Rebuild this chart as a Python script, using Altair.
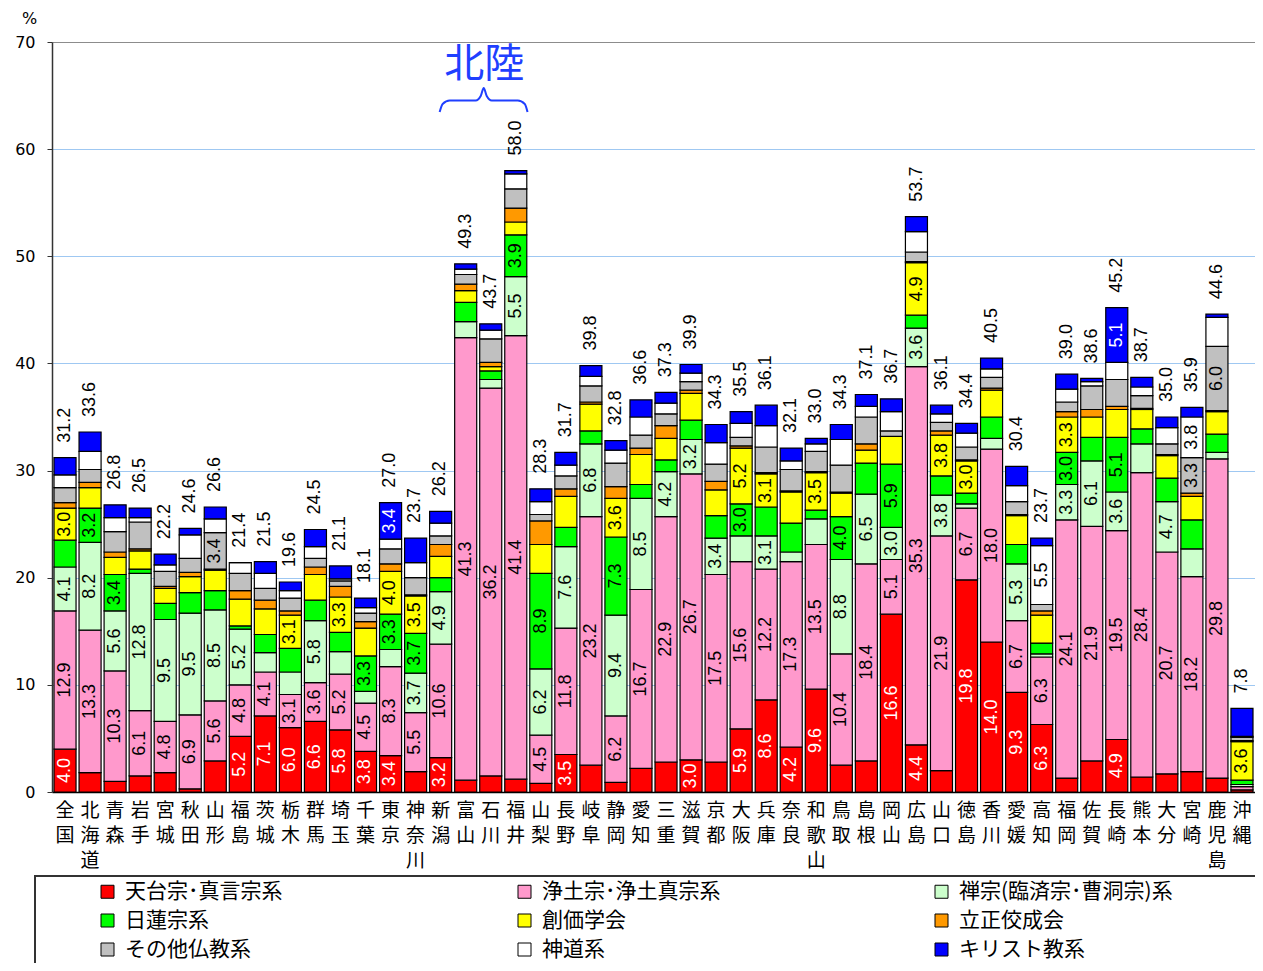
import altair as alt
import pandas as pd

prefs = ["全国","北海道","青森","岩手","宮城","秋田","山形","福島","茨城","栃木","群馬","埼玉",
         "千葉","東京","神奈川","新潟","富山","石川","福井","山梨","長野","岐阜","静岡","愛知",
         "三重","滋賀","京都","大阪","兵庫","奈良","和歌山","鳥取","島根","岡山","広島","山口",
         "徳島","香川","愛媛","高知","福岡","佐賀","長崎","熊本","大分","宮崎","鹿児島","沖縄"]

series = ["天台宗･真言宗系", "浄土宗･浄土真宗系", "禅宗(臨済宗･曹洞宗)系", "日蓮宗系", "創価学会",
          "立正佼成会", "その他仏教系", "神道系", "キリスト教系"]
colors = ["#FF0000", "#FF99CC", "#CCFFCC", "#00FF00", "#FFFF00", "#FF9900", "#C0C0C0", "#FFFFFF", "#0000FF"]

tendai = [4.0,1.8,1.0,1.5,1.8,0.3,2.9,5.2,7.1,6.0,6.6,5.8,3.8,3.4,1.9,3.2,1.1,1.5,1.2,0.8,3.5,2.5,0.9,2.2,
          2.8,3.0,2.8,5.9,8.6,4.2,9.6,2.5,2.9,16.6,4.4,2.0,19.8,14.0,9.3,6.3,1.3,2.9,4.9,1.4,1.7,1.9,1.3,0.2]
jodo = [12.9,13.3,10.3,6.1,4.8,6.9,5.6,4.8,4.1,3.1,3.6,5.2,4.5,8.3,5.5,10.6,41.3,36.2,41.4,4.5,11.8,23.2,6.2,16.7,
        22.9,26.7,17.5,15.6,12.2,17.3,13.5,10.4,18.4,5.1,35.3,21.9,6.7,18.0,6.7,6.3,24.1,21.9,19.5,28.4,20.7,18.2,29.8,0.3]
zen = [4.1,8.2,5.6,12.8,9.5,9.5,8.5,5.2,1.8,2.1,5.8,2.1,1.1,1.6,3.7,4.9,1.5,0.8,5.5,6.2,7.6,6.8,9.4,8.5,
       4.2,3.2,3.4,2.4,3.1,0.9,2.4,8.8,6.5,3.0,3.6,3.8,0.4,1.0,5.3,0.3,3.3,6.1,3.6,2.7,4.7,2.6,0.6,0.2]
nichiren = [2.5,3.2,3.4,0.4,1.5,1.9,1.8,0.3,1.7,2.2,1.9,1.8,3.3,3.3,3.7,1.3,1.8,0.8,3.9,8.9,1.8,1.2,7.3,1.3,
            1.1,1.8,2.1,3.0,2.7,2.7,0.8,4.0,2.9,5.9,1.2,1.8,1.0,2.0,1.8,1.0,3.0,2.2,5.1,1.4,2.2,2.7,1.7,0.4]
soka = [3.0,1.9,1.6,1.7,1.4,1.5,1.9,2.5,2.4,3.1,2.4,3.3,2.6,4.0,3.5,2.0,1.1,0.4,1.2,2.7,2.9,2.5,3.6,2.8,
        2.0,2.5,2.4,5.2,3.1,2.9,3.5,2.2,1.2,2.6,4.9,3.8,3.0,2.5,2.7,2.6,3.3,1.9,2.6,1.8,2.1,2.2,2.1,3.6]
rissho = [0.5,0.5,0.5,0.2,0.2,0.4,0.1,0.8,0.8,0.4,0.7,1.0,0.6,0.7,0.1,1.1,0.6,0.4,1.3,2.2,0.7,0.2,1.1,0.6,
          1.2,0.3,0.8,0.2,0.1,0.1,0.1,0.1,0.6,0.0,0.1,0.4,0.1,0.2,0.1,0.4,0.5,0.7,0.3,0.1,0.1,0.3,0.1,0.1]
other_bud = [1.4,1.2,1.9,2.5,1.4,1.3,3.4,1.6,1.1,1.2,0.8,0.5,0.8,1.4,1.6,0.8,0.9,2.2,1.8,0.6,1.2,1.5,2.2,1.2,
             1.1,0.8,1.6,0.8,2.4,2.0,1.9,2.5,2.5,0.5,0.9,0.8,1.2,1.0,1.2,0.6,0.9,2.2,2.5,1.2,1.0,3.3,6.0,0.3]
shinto = [1.2,1.7,1.3,0.4,0.6,2.2,1.3,1.0,1.4,0.7,1.1,0.2,0.5,0.9,1.4,1.2,0.5,0.8,1.4,1.2,1.0,0.9,1.2,1.7,
          1.0,0.8,2.0,1.3,2.0,0.8,0.7,2.4,1.0,1.8,1.9,0.8,1.3,0.8,1.5,5.5,1.2,0.4,1.6,0.8,1.5,3.8,2.7,0.1]
christ = [1.6,1.8,1.2,0.9,1.0,0.6,1.1,0.0,1.1,0.8,1.6,1.2,0.9,3.4,2.3,1.1,0.5,0.6,0.3,1.2,1.2,1.0,0.9,1.6,
          1.0,0.8,1.7,1.1,1.9,1.2,0.5,1.4,1.1,1.2,1.4,0.8,0.9,1.0,1.8,0.7,1.4,0.3,5.1,0.9,1.0,0.9,0.3,2.6]

# annotation brace (x in category-index units, y in %)
brace_x = [15.48, 15.60, 15.88, 16.92, 17.12, 17.24, 17.36, 17.56, 18.60, 18.88, 18.99]
brace_y = [63.47, 64.22, 64.54, 64.54, 64.96, 65.71, 64.96, 64.54, 64.54, 64.22, 63.47]
region_label = "北陸"
region_x = 17.26
region_y = 67.9

values = [tendai, jodo, zen, nichiren, soka, rissho, other_bud, shinto, christ]

rows = []
for i, p in enumerate(prefs):
    for k, s in enumerate(series):
        rows.append({"pref": p, "series": s, "order": k, "value": values[k][i]})
df = pd.DataFrame(rows)

totals = pd.DataFrame({"pref": prefs,
                       "total": [round(sum(v[i] for v in values), 1) for i in range(len(prefs))]})

W, H = 1203, 750
NUMFONT = "Liberation Sans"
JPFONT = "Noto Sans CJK JP"

xscale = alt.Scale(domain=prefs, paddingInner=0.12, paddingOuter=0.08)
yscale = alt.Scale(domain=[0, 70], nice=False)

x_axis = alt.Axis(title=None, labelAngle=0, labelExpr="split(datum.label, '')", labelFont=JPFONT,
                  labelFontSize=19, labelLineHeight=25, labelColor="black", labelPadding=9,
                  labelBaseline="top", labelOverlap=False, ticks=False, domainColor="black",
                  domainWidth=1.5)
y_axis = alt.Axis(title="%", titleAngle=0, titleX=-23, titleY=-24, titleAlign="center",
                  titleBaseline="middle", titleFont="DejaVu Sans", titleFontSize=16,
                  titleFontWeight="normal", titleColor="black",
                  values=[0, 10, 20, 30, 40, 50, 60, 70], labelFont="DejaVu Sans", labelFontSize=16,
                  labelColor="black", labelPadding=12, tickSize=5, tickColor="#333",
                  domainColor="#333", domainWidth=1.5,
                  gridColor={"condition": {"test": "datum.value === 70", "value": "#8C8C8C"},
                             "value": "#9FC8F2"},
                  gridWidth=1)

stacked = alt.Chart(df).transform_stack(
    stack="value", groupby=["pref"], sort=[alt.SortField("order", order="ascending")], as_=["y0", "y1"]
).transform_calculate(mid="(datum.y0 + datum.y1) / 2")

bars = stacked.mark_bar(stroke="black", strokeWidth=1.2).encode(
    x=alt.X("pref:N", sort=prefs, scale=xscale, axis=x_axis),
    y=alt.Y("y0:Q", scale=yscale, axis=y_axis),
    y2="y1:Q",
    color=alt.Color("series:N", scale=alt.Scale(domain=series, range=colors),
                    legend=alt.Legend(title=None, orient="none", legendX=45, legendY=839,
                                      columns=3, direction="horizontal", gridAlign="all",
                                      columnPadding=175, rowPadding=7, symbolType="square",
                                      symbolSize=169, symbolStrokeColor="black",
                                      symbolStrokeWidth=1, labelFont=JPFONT, labelFontSize=21,
                                      labelColor="black", labelOffset=7, labelLimit=400, padding=0)),
    order=alt.Order("order:Q"),
)

seg_labels = stacked.transform_filter("datum.value >= 3").mark_text(
    angle=270, align="center", baseline="middle", font=NUMFONT, fontSize=18
).encode(
    x=alt.X("pref:N", sort=prefs, scale=xscale, axis=None),
    y=alt.Y("mid:Q", scale=yscale, axis=y_axis),
    text=alt.Text("value:Q", format=".1f"),
    color=alt.condition("datum.order === 0 || datum.order === 8", alt.value("white"), alt.value("black")),
)

tot_labels = alt.Chart(totals).mark_text(
    angle=270, align="left", baseline="middle", font=NUMFONT, fontSize=18, yOffset=-15, color="black"
).encode(
    x=alt.X("pref:N", sort=prefs, scale=xscale, axis=None),
    y=alt.Y("total:Q", scale=yscale, axis=y_axis),
    text=alt.Text("total:Q", format=".1f"),
)

qscale = alt.Scale(domain=[0, 48.04], nice=False, zero=False)
brace_df = pd.DataFrame({"bx": brace_x, "by": brace_y, "idx": list(range(len(brace_x)))})
brace = alt.Chart(brace_df).mark_line(color="#1F3FFF", strokeWidth=2, interpolate="monotone").encode(
    x=alt.X("bx:Q", scale=qscale, axis=None),
    y=alt.Y("by:Q", scale=yscale, axis=y_axis),
    order="idx:Q",
)
region = alt.Chart(pd.DataFrame({"lx": [region_x], "ly": [region_y], "t": [region_label]})).mark_text(
    font=JPFONT, fontSize=40, color="#1F3FFF", align="center", baseline="middle"
).encode(
    x=alt.X("lx:Q", scale=qscale, axis=None),
    y=alt.Y("ly:Q", scale=yscale, axis=y_axis),
    text="t:N",
)

legend_box = alt.Chart(alt.Data(values=[{"a": 1}])).mark_rect(
    fillOpacity=0, stroke="#333", strokeWidth=2
).encode(x=alt.value(-17), x2=alt.value(1240), y=alt.value(834), y2=alt.value(960))

chart = alt.layer(legend_box, bars, seg_labels, tot_labels, brace, region).resolve_scale(
    x="independent"
).properties(
    width=W, height=H, autosize="none",
    padding={"left": 44, "top": 34, "right": 0, "bottom": 171},
    background="white",
).configure_view(strokeWidth=0)

chart.save("out.html", embed_options={"renderer": "svg", "actions": False})
